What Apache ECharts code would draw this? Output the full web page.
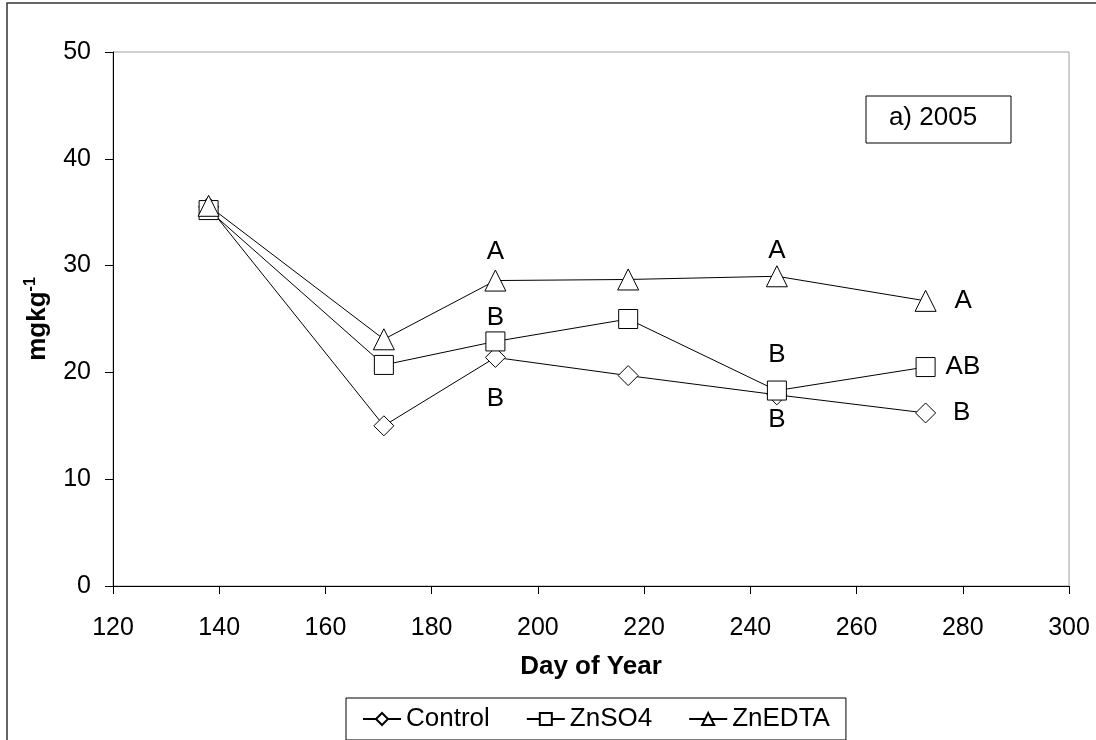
<!DOCTYPE html>
<html>
<head>
<meta charset="utf-8">
<script src="https://cdn.jsdelivr.net/npm/echarts@6/dist/echarts.min.js"></script>
<style>
	html, body { margin: 0; padding: 0; background: #fff; }
	#chart { width: 1096px; height: 740px; }
</style>
</head>
<body>
<div id="chart"></div>
<script>
	// day of year for each sampling
	var days = [138, 171, 192, 217, 245, 273]
	/*数据 mg/kg*/
	var controlValues = [35.5, 15.0, 21.4, 19.7, 17.9, 16.2]
	var znso4Values = [35.2, 20.7, 22.9, 25.0, 18.3, 20.5]
	var znedtaValues = [35.6, 23.1, 28.6, 28.7, 29.0, 26.7]
	// significance letters
	var controlLetters = ['', '', 'B', '', 'B', 'B']
	var znso4Letters = ['', '', 'B', '', 'B', 'AB']
	var znedtaLetters = ['', '', 'A', '', 'A', 'A']
	var xTicks = [120, 140, 160, 180, 200, 220, 240, 260, 280, 300]
	var yTicks = [0, 10, 20, 30, 40, 50]

	var font = 'Liberation Sans, Arial, sans-serif'

	// where each letter sits relative to its marker
	var controlPlace = [null, null, ['bottom', 18], null, ['bottom', 2], ['right', 17]]
	var znso4Place = [null, null, ['top', 1], null, ['top', 13], ['right', 10]]
	var znedtaPlace = [null, null, ['top', 5], null, ['top', 1], ['right', 18]]

	function buildData(values, letters, place) {
		return values.map(function (v, i) {
			var item = { value: [days[i], v] }
			if (letters[i]) {
				item.label = {
					show: true,
					formatter: letters[i],
					position: place[i][0],
					distance: place[i][1],
					color: '#000',
					fontSize: 26,
					fontFamily: font
				}
			}
			return item
		})
	}

	function makeSeries(name, symbol, values, letters, place) {
		return {
			name: name,
			type: 'line',
			symbol: symbol,
			symbolSize: symbol === 'triangle' ? 21 : (symbol === 'rect' ? 19 : 20),
			showAllSymbol: true,
			color: '#000',
			lineStyle: { color: '#000', width: 1 },
			itemStyle: { color: '#fff', borderColor: '#000', borderWidth: 1 },
			emphasis: { disabled: true },
			animation: false,
			data: buildData(values, letters, place)
		}
	}

	var chart = echarts.init(document.getElementById('chart'))
	chart.setOption({
		backgroundColor: '#fff',
		textStyle: { fontFamily: font, color: '#000' },
		grid: {
			left: 113,
			right: 27,
			top: 52,
			bottom: 154,
			show: true,
			borderColor: '#a0a0a0',
			borderWidth: 1
		},
		legend: {
			left: 346,
			top: 698,
			padding: [8, 16, 8, 16],
			borderColor: '#000',
			borderWidth: 1,
			itemWidth: 38,
			itemHeight: 15,
			itemGap: 36,
			textStyle: { fontSize: 26, color: '#000', fontFamily: font },
			data: ['Control', 'ZnSO4', 'ZnEDTA']
		},
		xAxis: {
			type: 'value',
			min: xTicks[0],
			max: xTicks[xTicks.length - 1],
			interval: 20,
			name: 'Day of Year',
			nameLocation: 'middle',
			nameGap: 68,
			nameTextStyle: { fontSize: 26, fontWeight: 'bold', color: '#000', fontFamily: font },
			axisLine: { lineStyle: { color: '#000', width: 1 } },
			axisTick: { length: 8, lineStyle: { color: '#000' } },
			axisLabel: { fontSize: 25, color: '#000', margin: 30, fontFamily: font },
			splitLine: { show: false }
		},
		yAxis: {
			type: 'value',
			min: yTicks[0],
			max: yTicks[yTicks.length - 1],
			interval: 10,
			name: '{b|mgkg}{s|-1}',
			nameLocation: 'middle',
			nameRotate: 90,
			nameGap: 60,
			nameTextStyle: {
				rich: {
					b: { fontSize: 26, fontWeight: 'bold', color: '#000', fontFamily: font },
					s: { fontSize: 16, fontWeight: 'bold', color: '#000', fontFamily: font, verticalAlign: 'top', padding: [0, 0, 14, 0] }
				}
			},
			axisLine: { show: true, lineStyle: { color: '#000', width: 1 } },
			axisTick: { show: true, length: 8, lineStyle: { color: '#000' } },
			axisLabel: { fontSize: 25, color: '#000', margin: 22, fontFamily: font },
			splitLine: { show: false }
		},
		graphic: [
			{
				type: 'rect',
				shape: { x: 7, y: 3, width: 1100, height: 760 },
				style: { fill: 'none', stroke: '#333', lineWidth: 1.5 },
				silent: true
			},
			{
				type: 'rect',
				shape: { x: 866, y: 96, width: 145, height: 47 },
				style: { fill: '#fff', stroke: '#000', lineWidth: 1 },
				silent: true
			},
			{
				type: 'text',
				x: 933,
				y: 118,
				style: { text: 'a) 2005', fontSize: 26, fill: '#000', fontFamily: font, align: 'center', verticalAlign: 'middle' },
				silent: true
			}
		],
		series: [
			makeSeries('Control', 'diamond', controlValues, controlLetters, controlPlace),
			makeSeries('ZnSO4', 'rect', znso4Values, znso4Letters, znso4Place),
			makeSeries('ZnEDTA', 'triangle', znedtaValues, znedtaLetters, znedtaPlace)
		]
	})
</script>
</body>
</html>
